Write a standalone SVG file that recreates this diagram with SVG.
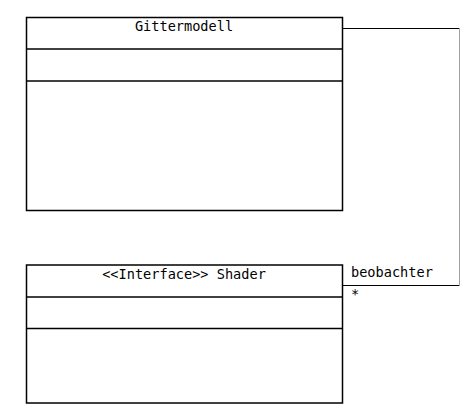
<svg xmlns="http://www.w3.org/2000/svg" width="468" height="413" viewBox="0 0 468 413">
<style>
.box{fill:#fff;stroke:#000;stroke-width:1.5}
.div{stroke:#000;stroke-width:1.5}
.t{font-family:"DejaVu Sans Mono","Liberation Mono",monospace;font-size:13.6px;fill:#000}
.c{fill:none;stroke:#000;stroke-width:1}
</style>
<rect width="468" height="413" fill="#fff"/>
<g id="connectors">
<polyline class="c" points="343,28.5 459,28.5"/>
<line x1="459.5" y1="28" x2="459.5" y2="286" stroke="#a0a0a0" stroke-width="1"/>
<polyline class="c" points="459,285.5 343,285.5"/>
<text class="t" x="351" y="277">beobachter</text>
<text class="t" x="351" y="299">*</text>
</g>
<g id="Gittermodell">
<rect class="box" x="26.5" y="17.5" width="316" height="193"/>
<line class="div" x1="26.5" y1="49" x2="342.5" y2="49"/>
<line class="div" x1="26.5" y1="81" x2="342.5" y2="81"/>
<text class="t" x="184" y="31" text-anchor="middle">Gittermodell</text>
</g>
<g id="Shader">
<rect class="box" x="26.5" y="265" width="316" height="138"/>
<line class="div" x1="26.5" y1="297" x2="342.5" y2="297"/>
<line class="div" x1="26.5" y1="328.5" x2="342.5" y2="328.5"/>
<text class="t" x="184" y="279" text-anchor="middle">&lt;&lt;Interface&gt;&gt; Shader</text>
</g>
</svg>
